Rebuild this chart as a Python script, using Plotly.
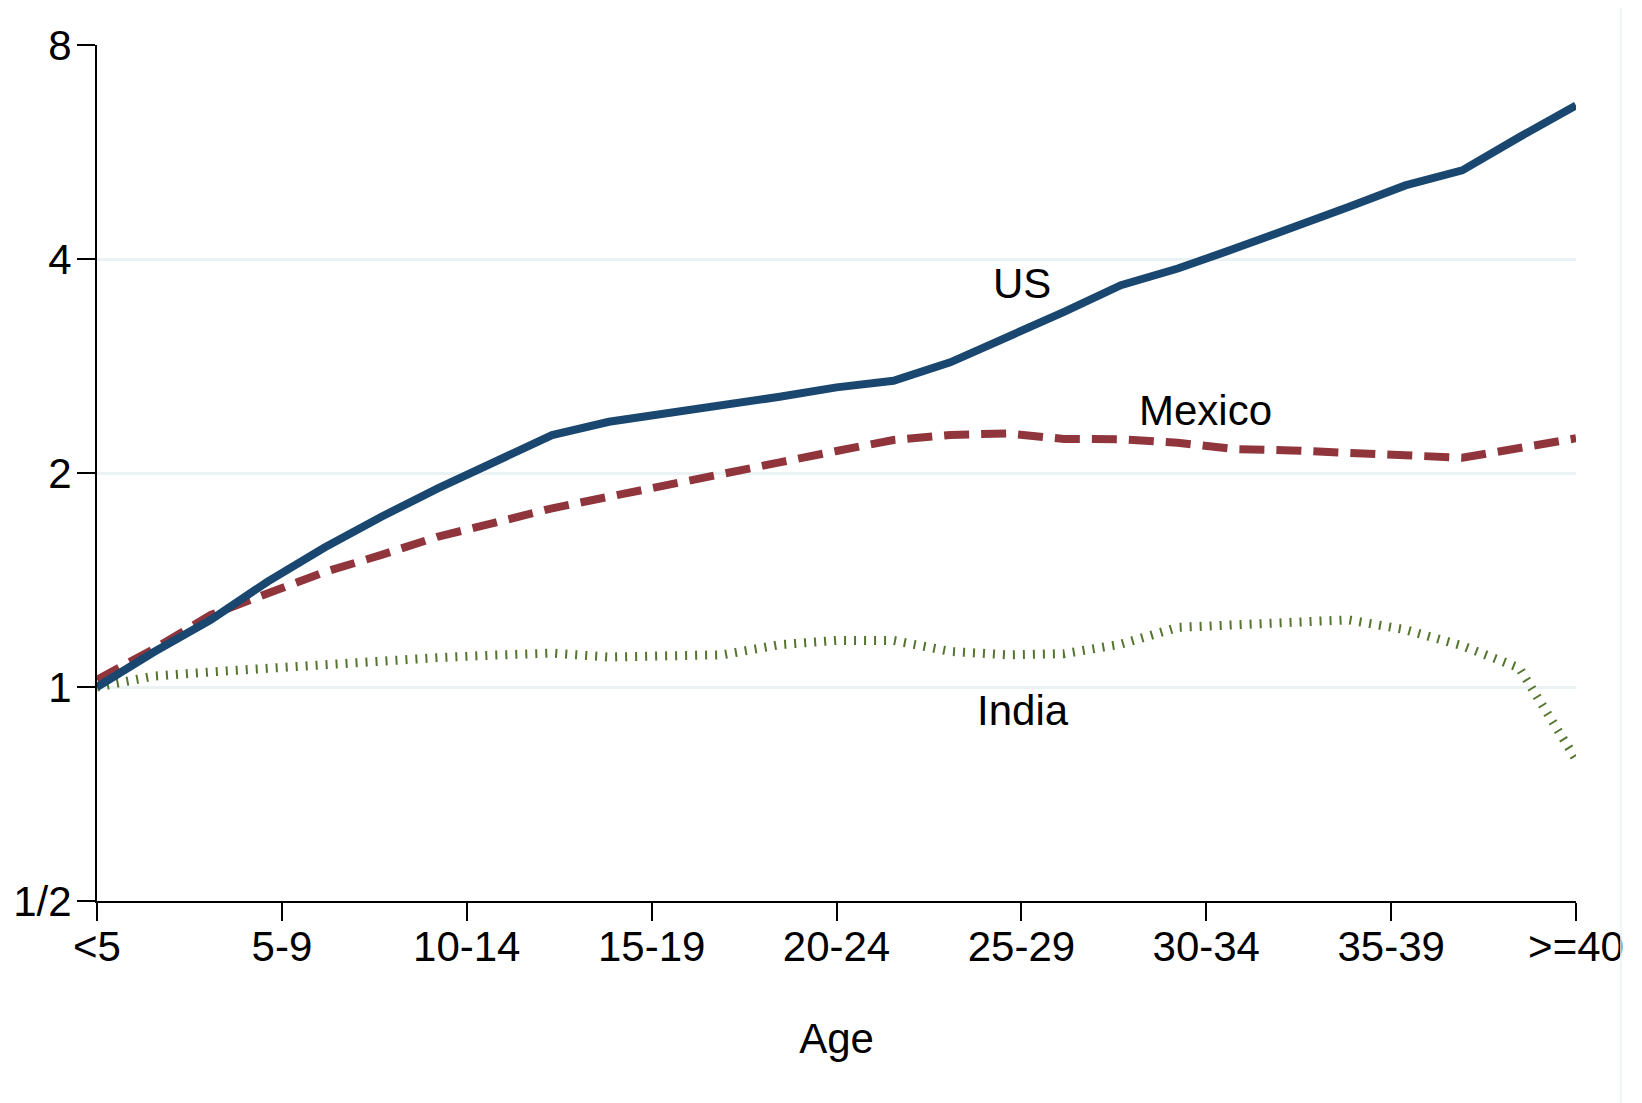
import plotly.graph_objects as go
import math

# x positions: 27 evenly spaced points across age groups
x_idx = list(range(27))
age_labels = ["<5", "5-9", "10-14", "15-19", "20-24", "25-29", "30-34", "35-39", ">=40"]

us = [1.00, 1.12, 1.243, 1.407, 1.571, 1.736, 1.904, 2.079, 2.261, 2.361,
      2.426, 2.478, 2.560, 2.639, 2.696, 2.862, 3.102, 3.370, 3.674, 3.878,
      4.137, 4.414, 4.734, 5.077, 5.330, 5.935, 6.576]
mexico = [1.024, 1.131, 1.263, 1.355, 1.451, 1.534, 1.628, 1.703, 1.784, 1.852,
          1.918, 1.992, 2.070, 2.148, 2.226, 2.262, 2.274, 2.233, 2.231, 2.206,
          2.161, 2.152, 2.141, 2.118, 2.101, 2.166, 2.238]
india = [1.00, 1.036, 1.050, 1.064, 1.078, 1.090, 1.100, 1.109, 1.116, 1.102,
         1.102, 1.110, 1.147, 1.163, 1.163, 1.122, 1.110, 1.114, 1.149, 1.213,
         1.223, 1.235, 1.243, 1.204, 1.143, 1.064, 0.791]

y_ticks = [0.5, 1, 2, 4, 8]
y_tick_text = ["1/2", "1", "2", "4", "8"]

NAVY = "#1a476f"
MAROON = "#90353b"
GREEN = "#55752f"
GRID = "#eaf2f3"
FONT = "Liberation Sans, Arial, sans-serif"
FS = 42

n_groups = len(age_labels) - 1
x_max = x_idx[-1]
tick_pos = [k * x_max / n_groups for k in range(len(age_labels))]

fig = go.Figure()
fig.add_trace(go.Scatter(x=x_idx, y=india, mode="lines", name="India",
                         line=dict(color=GREEN, width=9, dash="2px,8px")))
fig.add_trace(go.Scatter(x=x_idx, y=mexico, mode="lines", name="Mexico",
                         line=dict(color=MAROON, width=8, dash="25px,12px")))
fig.add_trace(go.Scatter(x=x_idx, y=us, mode="lines", name="US",
                         line=dict(color=NAVY, width=8)))

ann_font = dict(family=FONT, size=FS, color="black")
fig.add_annotation(x=16.26, y=math.log10(3.70), text="US", showarrow=False,
                   font=ann_font, xanchor="center", yanchor="middle")
fig.add_annotation(x=19.49, y=math.log10(2.448), text="Mexico", showarrow=False,
                   font=ann_font, xanchor="center", yanchor="middle")
fig.add_annotation(x=16.28, y=math.log10(0.926), text="India", showarrow=False,
                   font=ann_font, xanchor="center", yanchor="middle")

# light outer frame (top and right edges visible)
fig.add_shape(type="line", xref="paper", yref="paper", x0=-0.1, x1=1.0304,
              y0=1.0467, y1=1.0467, line=dict(color=GRID, width=1.5))
fig.add_shape(type="line", xref="paper", yref="paper", x0=1.0304, x1=1.0304,
              y0=1.0467, y1=-0.25, line=dict(color=GRID, width=1.5))

fig.update_layout(
    width=1642, height=1103,
    margin=dict(l=89, r=74, t=37, b=210, autoexpand=False),
    paper_bgcolor="white", plot_bgcolor="white",
    showlegend=False,
    font=dict(family=FONT, size=FS, color="black"),
    xaxis=dict(
        range=[0, x_max], tickvals=tick_pos, ticktext=age_labels,
        showgrid=False, zeroline=False, automargin=False,
        showline=True, linecolor="black", linewidth=2,
        ticks="outside", ticklen=18, tickwidth=2, tickcolor="black",
        ticklabelstandoff=-10,
        tickfont=dict(family=FONT, size=FS, color="black"),
        title=dict(text="Age", font=dict(family=FONT, size=FS, color="black"), standoff=54),
    ),
    yaxis=dict(
        type="log", range=[math.log10(0.5), math.log10(8)],
        tickvals=y_ticks, ticktext=y_tick_text,
        showgrid=True, gridcolor=GRID, gridwidth=3,
        zeroline=False, automargin=False,
        showline=True, linecolor="black", linewidth=2,
        ticks="outside", ticklen=18, tickwidth=2, tickcolor="black",
        ticklabelstandoff=-3,
        tickfont=dict(family=FONT, size=FS, color="black"),
    ),
)

fig.write_html("out.html")
